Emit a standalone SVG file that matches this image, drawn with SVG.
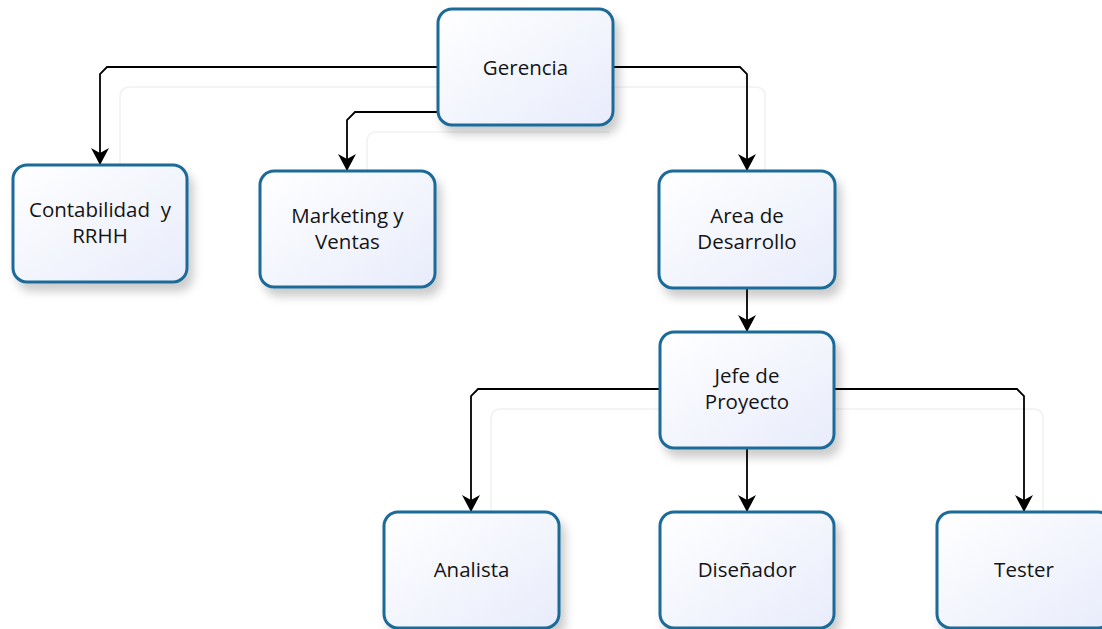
<svg xmlns="http://www.w3.org/2000/svg" width="1102" height="629" viewBox="0 0 1102 629">
  <defs>
    <linearGradient id="nodeFill" x1="0" y1="0" x2="1" y2="1">
      <stop offset="0" stop-color="#ffffff"/>
      <stop offset="1" stop-color="#e8ecfb"/>
    </linearGradient>
    <filter id="shadow" x="-20%" y="-20%" width="150%" height="150%">
      <feDropShadow dx="5" dy="8" stdDeviation="5" flood-color="#000000" flood-opacity="0.2"/>
    </filter>
    <marker id="arrow" markerUnits="userSpaceOnUse" markerWidth="20" markerHeight="20" viewBox="0 0 20 20" refX="18" refY="10" orient="auto">
      <path d="M18,10 L1,1 L6,10 L1,19 Z" fill="#000000"/>
    </marker>
    <style>
      .node rect { fill: url(#nodeFill); stroke: #1b6b98; stroke-width: 3; filter: url(#shadow); }
      .node text { font-family: "Open Sans", "Liberation Sans", sans-serif; font-size: 20.5px; fill: #141414; text-anchor: middle; white-space: pre; }
      .conn path { fill: none; stroke: #000000; stroke-width: 1.8; marker-end: url(#arrow); }
      .group { fill: none; stroke: #f1f1f1; stroke-width: 1.5; }
    </style>
  </defs>
  <rect width="1102" height="629" fill="#ffffff"/>

  <g id="groups">
    <path class="group" d="M120,165 V97 Q120,87 130,87 H755 Q765,87 765,97 V171"/>
    <path class="group" d="M367,171 V142 Q367,132 377,132 H610"/>
    <path class="group" d="M491,512 V419 Q491,409 501,409 H1033 Q1043,409 1043,419 V512"/>
  </g>

  <g id="connectors" class="conn">
    <path d="M438,67 H107 L100,74 V165"/>
    <path d="M438,112 H355 L347,120 V171"/>
    <path d="M613,67 H740 L747,74 V171"/>
    <path d="M747,288 V332"/>
    <path d="M660,389 H478 L471,396 V512"/>
    <path d="M747,448 V512"/>
    <path d="M834,389 H1017 L1024,396 V512"/>
  </g>

  <g id="gerencia" class="node">
    <rect x="438" y="9" width="175" height="116" rx="14"/>
    <text x="525.5" y="75">Gerencia</text>
  </g>
  <g id="contabilidad" class="node">
    <rect x="13" y="165" width="174" height="117" rx="14"/>
    <text x="100" y="217">Contabilidad&#160; y</text>
    <text x="100" y="243">RRHH</text>
  </g>
  <g id="marketing" class="node">
    <rect x="260" y="171" width="175" height="116" rx="14"/>
    <text x="347.5" y="223">Marketing y</text>
    <text x="347.5" y="249">Ventas</text>
  </g>
  <g id="area-desarrollo" class="node">
    <rect x="659" y="171" width="176" height="117" rx="14"/>
    <text x="747" y="223">Area de</text>
    <text x="747" y="249">Desarrollo</text>
  </g>
  <g id="jefe-proyecto" class="node">
    <rect x="660" y="332" width="174" height="116" rx="14"/>
    <text x="747" y="383">Jefe de</text>
    <text x="747" y="409">Proyecto</text>
  </g>
  <g id="analista" class="node">
    <rect x="384" y="512" width="175" height="116" rx="14"/>
    <text x="471.5" y="577">Analista</text>
  </g>
  <g id="disenador" class="node">
    <rect x="660" y="512" width="174" height="116" rx="14"/>
    <text x="747" y="577">Diseñador</text>
  </g>
  <g id="tester" class="node">
    <rect x="937" y="512" width="175" height="116" rx="14"/>
    <text x="1024" y="577">Tester</text>
  </g>
</svg>
